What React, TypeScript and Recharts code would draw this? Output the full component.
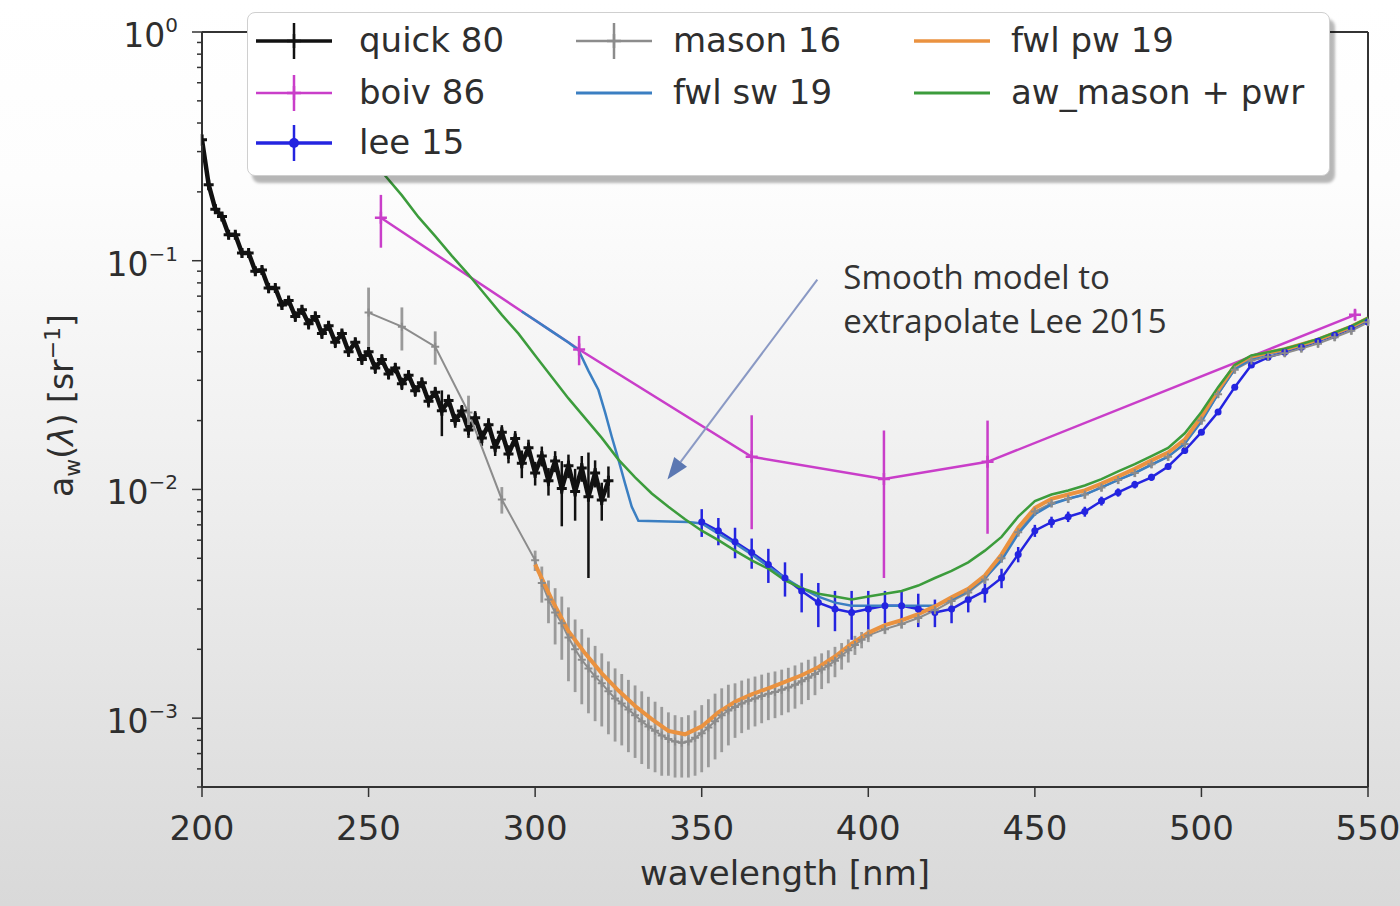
import React from 'react';
import { ComposedChart, Line, XAxis, YAxis, ErrorBar, Legend, ReferenceLine, ReferenceDot } from 'recharts';

// ---------------- data ----------------
const quickWl = [200,202,204,206,208,210,212,214,216,218,220,222,224,226,228,230,232,234,236,238,240,242,244,246,248,250,252,254,256,258,260,262,264,266,268,270,272,274,276,278,280,282,284,286,288,290,292,294,296,298,300,302,304,306,308,310,312,314,316,318,320,322];
const quickA = [0.338,0.215,0.168,0.156,0.130,0.130,0.108,0.108,0.090,0.091,
  0.076,0.076,0.064,0.067,0.057,0.061,0.053,0.057,0.048,0.052,
  0.044,0.048,0.040,0.044,0.037,0.040,0.034,0.037,0.032,0.034,
  0.0290,0.0316,0.0270,0.0293,0.0243,0.0266,0.0221,0.0245,0.0200,0.0220,
  0.0182,0.0206,0.0168,0.0192,0.0153,0.0178,0.0143,0.0167,0.0130,0.0152,
  0.0118,0.0140,0.0109,0.0133,0.0101,0.0127,0.0098,0.0124,0.0093,0.0118,
  0.0090,0.0109];
const quickErr = [0.02,0.012,0.008,0.007,0.006,0.005,0.005,0.005,0.004,0.004,
  0.004,0.003,0.003,0.003,0.003,0.003,0.003,0.003,0.0025,0.0025,
  0.0025,0.002,0.002,0.002,0.002,0.002,0.002,0.002,0.0018,0.0018,
  0.0018,0.0016,0.0016,0.0016,0.0015,0.0015,0.005,0.0015,0.0014,0.0014,
  0.0014,0.0014,0.0013,0.0013,0.0013,0.0013,0.0013,0.0013,0.0018,0.0013,
  0.0014,0.0014,0.0015,0.0014,0.0032,0.0015,0.0025,0.0016,0.0052,0.0016,
  0.0017,0.0017];

const boivWl = [253.7, 313.2, 365.0, 404.7, 435.8, 546.1];
const boivA = [0.154, 0.0409, 0.0139, 0.0111, 0.0132, 0.058];
const boivErr = [0.04, 0.006, 0.0072, 0.007, 0.0068, 0.003];

const leeWl = [350,355,360,365,370,375,380,385,390,395,400,405,410,415,420,425,430,435,440,445,450,455,460,465,470,475,480,485,490,495,500,505,510,515,520,525,530,535,540,545,550];
const leeA = [0.0072,0.0066,0.0059,0.0053,0.0047,0.0041,0.0036,0.0032,0.0030,0.0029,
  0.0030,0.0031,0.0031,0.0030,0.0029,0.0030,0.0033,0.0036,0.0041,0.0052,
  0.0066,0.0072,0.0076,0.0080,0.0089,0.0097,0.0105,0.0113,0.0126,0.0148,
  0.0178,0.0218,0.0280,0.0350,0.0378,0.0398,0.0418,0.0445,0.0472,0.0506,0.0540];
const leeErr = [0.0010,0.0009,0.0009,0.0008,0.0008,0.0007,0.0007,0.0007,0.0006,0.0007,
  0.0006,0.0005,0.0005,0.0005,0.0004,0.0004,0.0004,0.0004,0.0004,0.0004,
  0.0004,0.0004,0.0004,0.0004,0.0004,0.0004,0.0004,0.0004,0.0004,0.0005,
  0.0005,0.0006,0.0007,0.0008,0.0008,0.0008,0.0008,0.0009,0.0009,0.0010,0.0010];

const masonWl = [250,260,270,280,290,
  300,302,304,306,308,310,312,314,316,318,320,322,324,326,328,330,332,334,336,338,
  340,342,344,346,348,350,352,354,356,358,360,362,364,366,368,370,372,374,376,378,
  380,382,384,386,388,390,392,394,396,398,400,
  405,410,415,420,425,430,435,440,445,450,455,460,465,470,475,480,485,490,495,500,
  505,510,515,520,525,530,535,540,545,550];
const masonA = [0.0593,0.0515,0.0421,0.0217,0.00904,
  0.0049,0.0039,0.0033,0.0029,0.0026,0.00225,0.0020,0.0018,0.00165,0.00152,
  0.00142,0.00131,0.00122,0.00116,0.00109,0.00103,0.00097,0.00092,0.00088,0.00084,
  0.00081,0.00079,0.00078,0.00079,0.00082,0.00086,0.00091,0.00097,0.00103,0.00108,
  0.00112,0.00116,0.00119,0.00122,0.00125,0.00128,0.00130,0.00133,0.00136,0.00140,
  0.00145,0.00150,0.00156,0.00163,0.00170,0.00178,0.00188,0.00198,0.00209,0.00220,
  0.00230,
  0.00245,0.00258,0.00274,0.00296,0.00325,0.00354,0.00404,0.0050,0.0065,0.0080,
  0.0087,0.0091,0.0095,0.0102,0.0110,0.0118,0.0129,0.0139,0.0158,0.0200,
  0.0261,0.0334,0.0366,0.0380,0.0394,0.0413,0.0434,0.0463,0.0494,0.0538];
const masonErr = [0.017,0.011,0.007,0.004,0.0012,
  0.0005,0.0007,0.0007,0.0008,0.0008,0.0008,0.0007,0.00065,0.0006,0.00055,
  0.0005,0.00046,0.00043,0.0004,0.00038,0.00036,0.00034,0.00032,0.0003,0.00028,
  0.00025,0.00024,0.00023,0.00024,0.00026,0.00028,0.0003,0.00031,0.00032,0.00032,
  0.0003,0.0003,0.0003,0.0003,0.0003,0.0003,0.0003,0.0003,0.0003,0.0003,
  0.0003,0.0003,0.0003,0.00029,0.00028,0.00027,0.00025,0.00023,0.0002,0.00018,
  0.00015,
  0.00012,0.00012,0.00013,0.00014,0.00015,0.00016,0.00018,0.00022,0.00028,0.00034,
  0.00036,0.00038,0.0004,0.00042,0.00045,0.00048,0.00052,0.00056,0.00063,0.0008,
  0.001,0.0013,0.0014,0.0015,0.0015,0.0016,0.0017,0.0018,0.0019,0.002];

const fwlSwWl = [296,300,305,310,313,316,319,321,323,325,327,329,331,346,350,
  355,360,365,370,375,380,385,390,395,400,405,410,415,420,425,430,435,440,445,450,
  455,460,465,470,475,480,485,490,495,500,505,510,515,520,525,530,535,540,545,550];
const fwlSwA = [0.0600,0.0549,0.0491,0.0439,0.0407,0.0330,0.0272,0.0217,0.0170,0.0135,0.0106,0.0084,0.0073,0.0072,0.0071,
  0.0064,0.0058,0.0052,0.0046,0.0041,0.0037,0.0034,0.0032,0.0031,0.0031,0.0031,0.0031,0.0031,0.0031,0.0033,0.0036,0.0041,0.0049,0.0064,0.0078,
  0.0086,0.0091,0.0095,0.0102,0.0110,0.0118,0.0128,0.0139,0.0159,0.0198,0.0262,0.0336,0.0373,0.0390,0.0405,0.0425,0.0447,0.0477,0.0510,0.0550];

const fwlPwWl = [300,305,310,315,320,325,330,335,340,345,350,355,360,365,370,375,380,385,390,395,400,405,410,415,420,425,430,435,440,445,450,455,460,465,470,475,480,485,490,495,500,505,510,515,520,525,530,535,540,545,550];
const fwlPwA = [0.0047,0.0033,0.00240,0.00192,0.00157,0.00132,0.00113,0.00099,0.00088,0.00085,
  0.00092,0.00106,0.00118,0.00127,0.00135,0.00144,0.00154,0.00167,0.00186,0.00212,
  0.00236,0.00255,0.00268,0.00285,0.00308,0.00338,0.00368,0.00420,0.0052,0.0068,
  0.0083,0.0091,0.0095,0.0099,0.0106,0.0114,0.0123,0.0134,0.0145,0.0165,
  0.0208,0.0272,0.0348,0.0381,0.0396,0.0410,0.0430,0.0452,0.0482,0.0515,0.0560];

const awWl = [240,245,250,255,260,265,270,275,280,285,290,295,300,305,310,315,320,325,330,335,340,345,350,355,360,365,370,375,380,385,390,395,400,405,410,415,420,425,430,435,440,445,450,455,460,465,470,475,480,485,490,495,500,505,510,515,520,525,530,535,540,545,550];
const awA = [0.52,0.40,0.30,0.235,0.193,0.155,0.128,0.105,0.087,0.071,
  0.058,0.048,0.0385,0.031,0.025,0.0205,0.0168,0.0135,0.0113,0.0096,
  0.0084,0.0074,0.0066,0.0060,0.0054,0.0049,0.0045,0.0040,0.0037,0.0035,
  0.0034,0.0033,0.0034,0.0035,0.0036,0.0038,0.0041,0.0044,0.0048,0.0054,
  0.0062,0.0076,0.0089,0.0095,0.0099,0.0104,0.0111,0.0120,0.0129,0.0140,
  0.0152,0.0176,0.0218,0.0280,0.0350,0.0385,0.0398,0.0412,0.0432,0.0455,
  0.0485,0.0518,0.0563];

const xTicks = [200, 250, 300, 350, 400, 450, 500, 550];
const yTicks = [0.0005,0.0006,0.0007,0.0008,0.0009,0.001,0.002,0.003,0.004,0.005,0.006,0.007,0.008,0.009,
  0.01,0.02,0.03,0.04,0.05,0.06,0.07,0.08,0.09,0.1,0.2,0.3,0.4,0.5,0.6,0.7,0.8,0.9,1];

const annotationLines = ['Smooth model to', 'extrapolate Lee 2015'];
const arrowTail = { x: 384.7, y: 0.0826 };
const arrowTip = { x: 339.7, y: 0.01106 };
const annotationAnchor = { x: 392.5, y: 0.0754 };

// ---------------- helpers ----------------
const build = (wl: number[], a: number[], e?: number[]) =>
  wl.map((x, i) => ({ x, y: a[i], e: e ? e[i] : 0 }));

const quickData = build(quickWl, quickA, quickErr);
const boivData = build(boivWl, boivA, boivErr);
const leeData = build(leeWl, leeA, leeErr);
const masonData = build(masonWl, masonA, masonErr);
const fwlSwData = build(fwlSwWl, fwlSwA);
const fwlPwData = build(fwlPwWl, fwlPwA);
const awData = build(awWl, awA);

const C = {
  quick: '#111111',
  boiv: '#c93ec9',
  lee: '#2424e0',
  mason: '#8c8c8c',
  fwlSw: '#3b7fc2',
  fwlPw: '#ea9240',
  aw: '#3c9c3c',
  axis: '#333333',
  text: '#2e2e2e',
};

const FONT = "'DejaVu Sans', 'Liberation Sans', sans-serif";

const plusDot = (size: number, color: string, sw: number) => (props: any) => {
  const { cx, cy, index } = props;
  if (cx == null || cy == null || isNaN(cx) || isNaN(cy)) return <g key={`n${index}`} />;
  return (
    <path key={`p${index}`} d={`M${cx - size},${cy}H${cx + size}M${cx},${cy - size}V${cy + size}`}
      stroke={color} strokeWidth={sw} fill="none" />
  );
};

const circleDot = (r: number, color: string) => (props: any) => {
  const { cx, cy, index } = props;
  if (cx == null || cy == null || isNaN(cx) || isNaN(cy)) return <g key={`n${index}`} />;
  return <circle key={`c${index}`} cx={cx} cy={cy} r={r} fill={color} stroke="none" />;
};

const supMap: Record<string, string> = { '0': '0', '-1': '−1', '-2': '−2', '-3': '−3' };

const YTick = (props: any) => {
  const { x, y, payload } = props;
  const v = payload.value;
  const lg = Math.log10(v);
  const major = Math.abs(lg - Math.round(lg)) < 1e-6;
  const len = major ? 10 : 5;
  const exp = String(Math.round(lg));
  return (
    <g>
      <line x1={x} x2={x - len} y1={y} y2={y} stroke={C.axis} strokeWidth={1.5} />
      {major && (
        <text x={x - 24} y={y + 15} textAnchor="end" fontSize={33} fill={C.text} fontFamily={FONT}>
          10<tspan fontSize={20} dy={-15}>{supMap[exp]}</tspan>
        </text>
      )}
    </g>
  );
};

const XTick = (props: any) => {
  const { x, y, payload } = props;
  return (
    <g>
      <line x1={x} x2={x} y1={y} y2={y + 10} stroke={C.axis} strokeWidth={1.5} />
      <text x={x} y={y + 53} textAnchor="middle" fontSize={34} fill={C.text} fontFamily={FONT}>
        {payload.value}
      </text>
    </g>
  );
};

const YLabel = (props: any) => {
  const vb = props.viewBox || { x: 0, y: 32, width: 202, height: 755 };
  const cy = vb.y + vb.height / 2;
  return (
    <text transform={`translate(73, ${cy - 4}) rotate(-90)`} textAnchor="middle" fontSize={33} fill={C.text} fontFamily={FONT}>
      a<tspan fontSize={22} dy={7}>w</tspan><tspan dy={-7}>(</tspan><tspan fontStyle="italic">λ</tspan><tspan>) [sr</tspan><tspan fontSize={22} dy={-13}>−1</tspan><tspan dy={13}>]</tspan>
    </text>
  );
};

const ArrowShape = (p: any) => {
  const { x1, y1, x2, y2 } = p;
  if ([x1, y1, x2, y2].some((v) => v == null || isNaN(v))) return <g />;
  const dx = x2 - x1, dy = y2 - y1;
  const L = Math.hypot(dx, dy) || 1;
  const ux = dx / L, uy = dy / L;
  const hl = 22, hw = 8;
  const bx = x2 - ux * hl, by = y2 - uy * hl;
  const pts = `${x2},${y2} ${bx - uy * hw},${by + ux * hw} ${bx + uy * hw},${by - ux * hw}`;
  return (
    <g>
      <line x1={x1} y1={y1} x2={bx} y2={by} stroke="#8a99c4" strokeWidth={2} />
      <polygon points={pts} fill="#5c78b2" />
    </g>
  );
};

const AnnotationText = (p: any) => {
  const { cx, cy } = p;
  if (cx == null || cy == null) return <g />;
  return (
    <text x={cx} y={cy} fontSize={33} fill="#333" fontFamily="'Open Sans', 'Noto Sans', sans-serif">
      <tspan x={cx}>{annotationLines[0]}</tspan>
      <tspan x={cx} dy={44}>{annotationLines[1]}</tspan>
    </text>
  );
};

// legend config (styles only)
const legendItems = [
  { name: 'quick 80', color: C.quick, err: true, marker: 'plus', col: 0, row: 0, w: 3.5 },
  { name: 'boiv 86', color: C.boiv, err: true, marker: 'plus', col: 0, row: 1, w: 2.5 },
  { name: 'lee 15', color: C.lee, err: true, marker: 'dot', col: 0, row: 2, w: 3.5 },
  { name: 'mason 16', color: C.mason, err: true, marker: 'plus', col: 1, row: 0, w: 2.5 },
  { name: 'fwl sw 19', color: C.fwlSw, err: false, marker: '', col: 1, row: 1, w: 3 },
  { name: 'fwl pw 19', color: C.fwlPw, err: false, marker: '', col: 2, row: 0, w: 3.5 },
  { name: 'aw_mason + pwr', color: C.aw, err: false, marker: '', col: 2, row: 1, w: 3 },
];
const legendColX = [8, 328, 666];
const legendTextX = [111, 425, 763];
const legendRowY = [28, 80, 130];

const LegendBox = () => (
  <div style={{
    position: 'relative', width: 1083, height: 164, background: '#ffffff',
    border: '1.5px solid #cfcfcf', borderRadius: 8, boxSizing: 'border-box',
    boxShadow: '5px 7px 3px rgba(0,0,0,0.28)', fontFamily: FONT,
  }}>
    {legendItems.map((it) => (
      <React.Fragment key={it.name}>
        <svg width={78} height={44} style={{ position: 'absolute', left: legendColX[it.col], top: legendRowY[it.row] - 22 }}>
          <line x1={0} x2={76} y1={22} y2={22} stroke={it.color} strokeWidth={it.w} />
          {it.err && <line x1={38} x2={38} y1={4} y2={40} stroke={it.color} strokeWidth={2.5} />}
          {it.marker === 'plus' && <path d="M31,22H45M38,15V29" stroke={it.color} strokeWidth={2.5} />}
          {it.marker === 'dot' && <circle cx={38} cy={22} r={5} fill={it.color} />}
        </svg>
        <div style={{
          position: 'absolute', left: legendTextX[it.col], top: legendRowY[it.row] - 23,
          height: 44, lineHeight: '44px', fontSize: 34, color: C.text, whiteSpace: 'nowrap',
        }}>{it.name}</div>
      </React.Fragment>
    ))}
  </div>
);

export default function App() {
  return (
    <div style={{
      position: 'absolute', left: 0, top: 0, width: 1400, height: 906, fontFamily: FONT,
      background: 'linear-gradient(to bottom, #ffffff 0%, #fdfdfd 20%, #eeeeee 55%, #e2e2e2 80%, #d9d9d9 100%)',
    }}>
      <ComposedChart width={1400} height={906} margin={{ top: 32, right: 32, bottom: 0, left: 0 }}>
        <XAxis dataKey="x" type="number" domain={[200, 550]} ticks={xTicks} interval={0} allowDataOverflow
          height={119} tickSize={0} tickMargin={0} tickLine={false} tick={<XTick />}
          axisLine={{ stroke: C.axis, strokeWidth: 2 }}
          label={{ value: 'wavelength [nm]', position: 'insideBottom', offset: 21, fontSize: 34, fill: C.text }} />
        <YAxis type="number" scale="log" domain={[0.0005, 1]} ticks={yTicks} interval={0} allowDataOverflow
          width={202} tickSize={0} tickMargin={0} tickLine={false} tick={<YTick />}
          axisLine={{ stroke: C.axis, strokeWidth: 2 }}
          label={{ content: (p: any) => <YLabel {...p} /> }} />

        <ReferenceLine y={1} stroke={C.axis} strokeWidth={2} />
        <ReferenceLine x={550} stroke={C.axis} strokeWidth={2} />

        <Line data={quickData} dataKey="y" stroke={C.quick} strokeWidth={4.5} dot={plusDot(5, C.quick, 3)}
          isAnimationActive={false} legendType="none">
          <ErrorBar dataKey="e" direction="y" width={0} stroke={C.quick} strokeWidth={2.5} />
        </Line>
        <Line data={boivData} dataKey="y" stroke={C.boiv} strokeWidth={2.5} dot={plusDot(6, C.boiv, 2.5)}
          isAnimationActive={false} legendType="none">
          <ErrorBar dataKey="e" direction="y" width={0} stroke={C.boiv} strokeWidth={2.5} />
        </Line>
        <Line data={leeData} dataKey="y" stroke={C.lee} strokeWidth={2.5} dot={circleDot(3.5, C.lee)}
          isAnimationActive={false} legendType="none">
          <ErrorBar dataKey="e" direction="y" width={0} stroke={C.lee} strokeWidth={2.5} />
        </Line>
        <Line data={masonData} dataKey="y" stroke={C.mason} strokeWidth={2} dot={plusDot(4, C.mason, 2)}
          isAnimationActive={false} legendType="none">
          <ErrorBar dataKey="e" direction="y" width={0} stroke="#9a9a9a" strokeWidth={2.8} />
        </Line>
        <Line data={fwlSwData} dataKey="y" stroke={C.fwlSw} strokeWidth={2.5} dot={false}
          isAnimationActive={false} legendType="none" />
        <Line data={fwlPwData} dataKey="y" stroke={C.fwlPw} strokeWidth={4} dot={false}
          isAnimationActive={false} legendType="none" />
        <Line data={awData} dataKey="y" stroke={C.aw} strokeWidth={2.5} dot={false}
          isAnimationActive={false} legendType="none" />

        <ReferenceLine segment={[arrowTail, arrowTip]} shape={ArrowShape} />
        <ReferenceDot x={annotationAnchor.x} y={annotationAnchor.y} r={0} shape={AnnotationText} />

        <Legend verticalAlign="middle" align="center" layout="horizontal"
          wrapperStyle={{ left: 247, top: 12, width: 1083, height: 164 }}
          content={() => <LegendBox />} />
      </ComposedChart>
    </div>
  );
}
